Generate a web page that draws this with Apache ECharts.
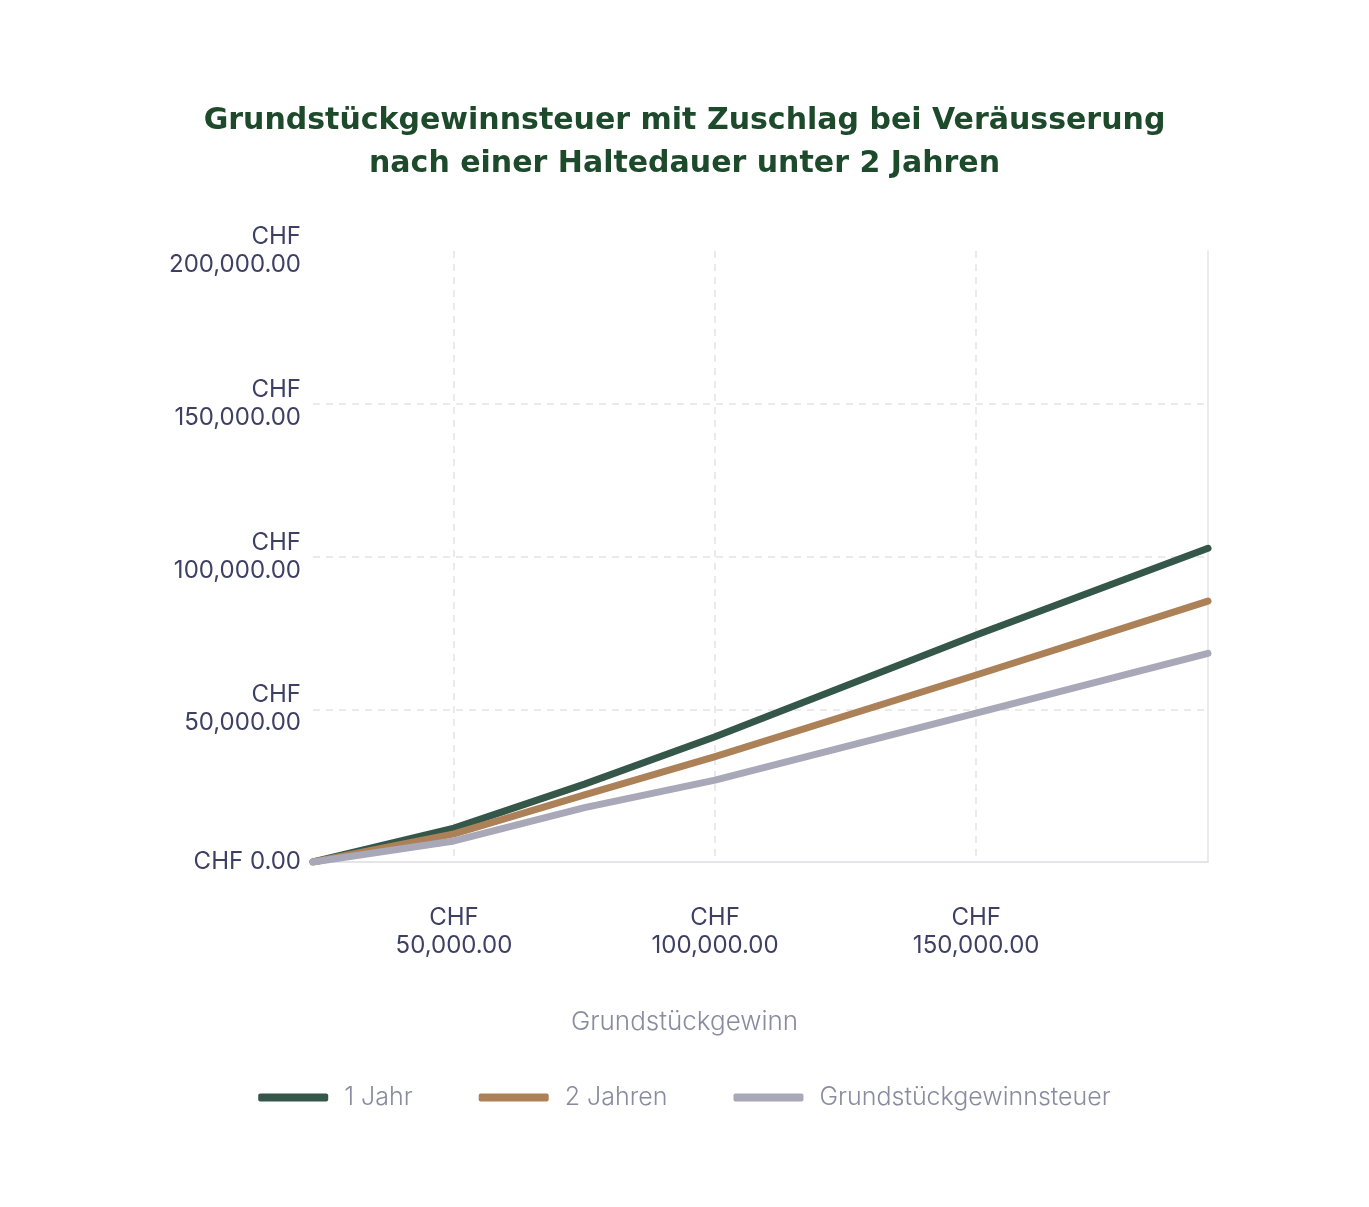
<!DOCTYPE html>
<html lang="de">
<head>
<meta charset="utf-8">
<title>Grundstückgewinnsteuer</title>
<script src="https://cdn.jsdelivr.net/npm/echarts@6/dist/echarts.min.js"></script>
<style>
    html, body { margin: 0; padding: 0; background: #fff; }
    #chart { width: 1369px; height: 1207px; }
</style>
</head>
<body>
<div id="chart"></div>
<script>
/* ===== Daten ===== */
const gewinn = [23000, 50000, 75000, 100000, 150000, 194400];
const einJahr = [0, 11100, 25500, 41000, 74300, 102700];
const zweiJahre = [0, 9200, 22000, 34500, 61200, 85400];
const steuer = [0, 6900, 17800, 26800, 48700, 68300];
const seriesNames = ["1 Jahr", "2 Jahren", "Grundstückgewinnsteuer"];
const seriesColors = ["#35574a", "#ad8157", "#a8a8b8"];
const titleLines = ["Grundstückgewinnsteuer mit Zuschlag bei Veräusserung", "nach einer Haltedauer unter 2 Jahren"];

const FONT = "Inter, 'Open Sans', sans-serif";
const X_MIN = 23000, X_MAX = 194400;

/* ===== Helfer ===== */
function chf(v) {
    return "CHF " + v.toLocaleString("en-US", { minimumFractionDigits: 2, maximumFractionDigits: 2 });
}
function pairs(ys) { return gewinn.map((x, i) => [x, ys[i]]); }

function lineSeries(name, ys, color) {
    return {
        name, type: "line", data: pairs(ys), symbol: "none", smooth: false,
        lineStyle: { width: 7, color, cap: "round", join: "round" },
        itemStyle: { color }, z: 3,
    };
}

const gridLine = { show: true, showMinLine: false, showMaxLine: false, lineStyle: { color: "#e4e4e8", width: 1.5, type: [7, 6] } };
const frameLine = { show: true, lineStyle: { color: "#e4e4e8", width: 1.5 } };
const titleStyle = { fontFamily: "'DejaVu Sans', sans-serif", fontWeight: 700, fontSize: 30, color: "#1e4a2c" };
const tickStyle = { fontFamily: FONT, fontSize: 24, lineHeight: 28, color: "#3d3f63" };

/* ===== Chart ===== */
const chart = echarts.init(document.getElementById("chart"));
chart.setOption({
    backgroundColor: "#fff",
    animation: false,
    title: [
        { text: titleLines[0], left: "center", top: 101, textStyle: titleStyle },
        { text: titleLines[1], left: "center", top: 144, textStyle: titleStyle },
    ],
    grid: { left: 313, right: 161, top: 251, bottom: 345 },
    legend: {
        bottom: 92, left: "center",
        icon: "roundRect", itemWidth: 70, itemHeight: 8, itemGap: 66,
        textStyle: { fontFamily: FONT, fontSize: 25, fontWeight: 300, color: "#8a8aa0", padding: [0, 0, 0, 11] },
        data: seriesNames,
    },
    xAxis: [{
        type: "value", min: X_MIN, max: X_MAX, splitNumber: 4,
        name: "Grundstückgewinn", nameLocation: "middle", nameGap: 147,
        nameTextStyle: { fontFamily: FONT, fontSize: 26, fontWeight: 300, color: "#8a8aa0", padding: [0, 152, 0, 0] },
        axisLine: frameLine, axisTick: { show: false },
        axisLabel: Object.assign({
            margin: 42, showMinLabel: false, showMaxLabel: false,
            formatter: v => chf(v).replace(" ", "\n"),
        }, tickStyle),
        splitLine: gridLine,
    }, {
        type: "value", position: "top", min: X_MIN, max: X_MAX,
        axisLine: frameLine, axisTick: { show: false }, axisLabel: { show: false }, splitLine: { show: false },
    }],
    yAxis: [{
        type: "value", min: 0, max: 200000, interval: 50000,
        axisLine: { show: false }, axisTick: { show: false },
        axisLabel: Object.assign({
            margin: 12, align: "right", padding: [8, 0, 0, 0],
            formatter: v => v === 0 ? chf(v) : chf(v).replace(" ", "\n"),
        }, tickStyle),
        splitLine: gridLine,
    }, {
        type: "value", position: "right", min: 0, max: 200000,
        axisLine: frameLine, axisTick: { show: false }, axisLabel: { show: false }, splitLine: { show: false },
    }],
    series: [
        lineSeries(seriesNames[0], einJahr, seriesColors[0]),
        lineSeries(seriesNames[1], zweiJahre, seriesColors[1]),
        lineSeries(seriesNames[2], steuer, seriesColors[2]),
    ],
});
</script>
</body>
</html>
